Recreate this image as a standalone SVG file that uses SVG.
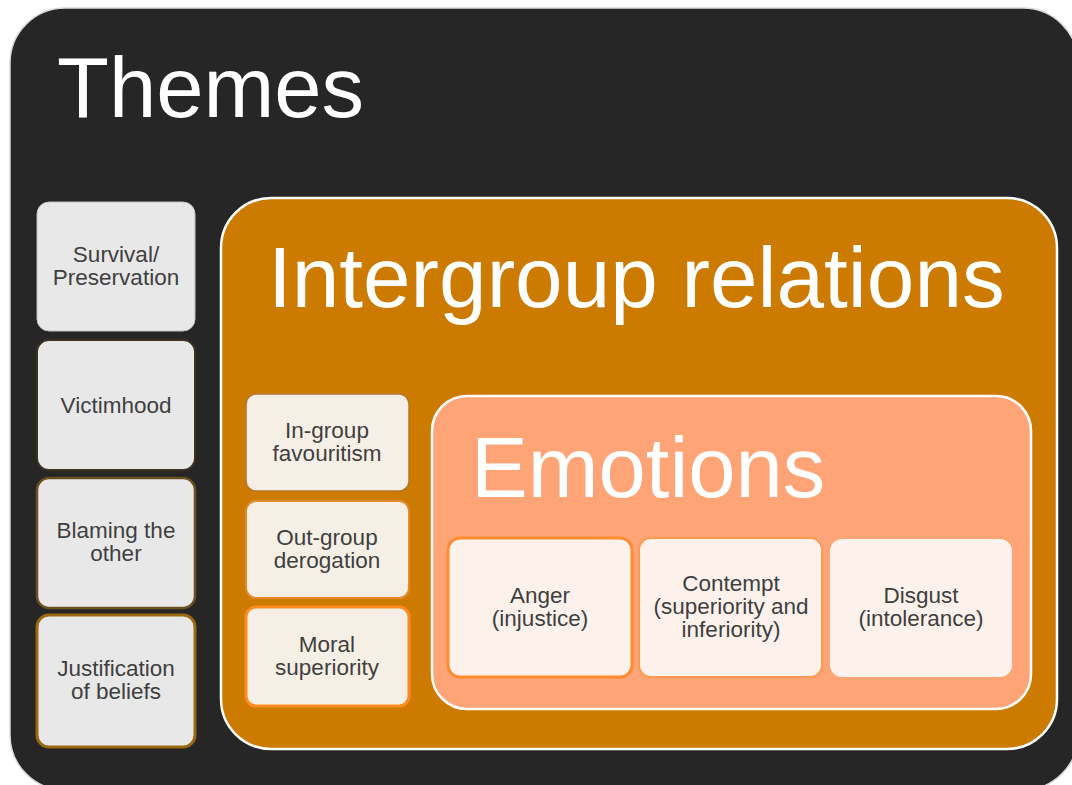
<svg xmlns="http://www.w3.org/2000/svg" width="1072" height="785" viewBox="0 0 1072 785">
<style>
.t{font-family:"Liberation Sans",Arial,sans-serif;fill:#3f3f3f;font-size:22.5px;text-anchor:middle}
.h{font-family:"Liberation Sans",Arial,sans-serif;fill:#ffffff}
.g{fill:#e8e8e8}
.c{fill:#f6efe6}
.p{fill:#fdf1ec}
</style>
<rect width="1072" height="785" fill="#ffffff"/>
<g id="themes">
<rect x="10" y="8" width="1068" height="782" rx="55" fill="#262626" stroke="#d9d9d9" stroke-width="1.5"/>
<text class="h" x="57" y="117" font-size="85">Themes</text>
</g>
<g id="survival">
<rect class="g" x="37" y="202" width="158" height="129" rx="12" stroke="#bfbfbf" stroke-width="1"/>
<text class="t" x="116" y="262">Survival/</text>
<text class="t" x="116" y="285">Preservation</text>
</g>
<g id="victimhood">
<rect class="g" x="37" y="340" width="158" height="130" rx="12" stroke="#3d3322" stroke-width="2"/>
<text class="t" x="116" y="413">Victimhood</text>
</g>
<g id="blaming">
<rect class="g" x="37" y="478" width="158" height="130" rx="12" stroke="#6b5020" stroke-width="2.5"/>
<text class="t" x="116" y="538">Blaming the</text>
<text class="t" x="116" y="561">other</text>
</g>
<g id="justification">
<rect class="g" x="37" y="615" width="158" height="132" rx="12" stroke="#9c6810" stroke-width="3"/>
<text class="t" x="116" y="676">Justification</text>
<text class="t" x="116" y="699">of beliefs</text>
</g>
<g id="intergroup">
<rect x="221" y="198" width="836" height="551" rx="50" fill="#cc7a00" stroke="#ffffff" stroke-width="2.5"/>
<text class="h" x="268" y="307" font-size="85.5">Intergroup relations</text>
</g>
<g id="ingroup">
<rect class="c" x="246" y="394" width="163" height="97" rx="10" stroke="#b8762a" stroke-width="1.5"/>
<text class="t" x="327" y="438">In-group</text>
<text class="t" x="327" y="461">favouritism</text>
</g>
<g id="outgroup">
<rect class="c" x="246" y="501" width="163" height="97" rx="10" stroke="#e58a2a" stroke-width="2"/>
<text class="t" x="327" y="545">Out-group</text>
<text class="t" x="327" y="568">derogation</text>
</g>
<g id="moral">
<rect class="c" x="246" y="607" width="163" height="99" rx="10" stroke="#ff8a1f" stroke-width="3"/>
<text class="t" x="327" y="652">Moral</text>
<text class="t" x="327" y="675">superiority</text>
</g>
<g id="emotions">
<rect x="432" y="396" width="599" height="313" rx="35" fill="#ffa477" stroke="#ffffff" stroke-width="2.5"/>
<text class="h" x="471" y="497" font-size="85">Emotions</text>
</g>
<g id="anger">
<rect class="p" x="448" y="538" width="184" height="139" rx="12" stroke="#ff8c2e" stroke-width="3"/>
<text class="t" x="540" y="603">Anger</text>
<text class="t" x="540" y="626">(injustice)</text>
</g>
<g id="contempt">
<rect class="p" x="639" y="538" width="183" height="139" rx="12" stroke="#ff9a50" stroke-width="2"/>
<text class="t" x="731" y="591">Contempt</text>
<text class="t" x="731" y="614">(superiority and</text>
<text class="t" x="731" y="637">inferiority)</text>
</g>
<g id="disgust">
<rect class="p" x="830" y="539" width="182" height="138" rx="12"/>
<text class="t" x="921" y="603">Disgust</text>
<text class="t" x="921" y="626">(intolerance)</text>
</g>
<g id="connectors"></g>
</svg>
